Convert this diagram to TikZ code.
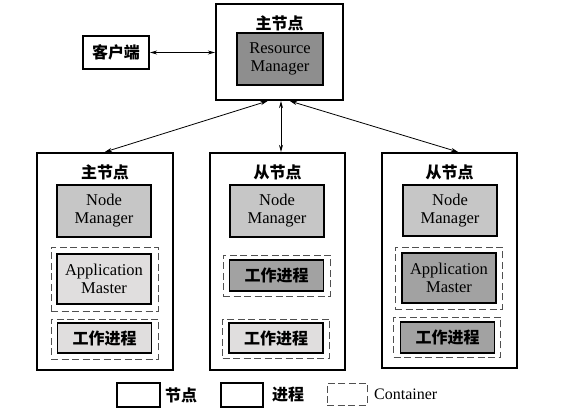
\documentclass[tikz,border=0pt]{standalone}
\usepackage{fontspec}
\setmainfont{Liberation Serif}
\newfontfamily\cjk{Noto Sans CJK SC}
\usetikzlibrary{arrows.meta,calc}
\definecolor{rmgray}{HTML}{8E8E8E}
\definecolor{nmgray}{HTML}{C6C6C6}
\definecolor{lightp}{HTML}{E0DEDE}
\definecolor{darkp}{HTML}{A2A2A2}
\definecolor{dashgray}{HTML}{505050}
\begin{document}
\begin{tikzpicture}[x=1pt,y=-1pt,
  hostbox/.style={draw,line width=2.2pt,fill=white,inner sep=0pt,minimum width=#1},
  procbox/.style={draw,line width=1.8pt,inner sep=0pt,minimum width=94pt,align=center,
    font=\fontsize{16.5}{18}\selectfont},
  contbox/.style={draw=dashgray,line width=0.9pt,dash pattern=on 7pt off 3.5pt,inner sep=0pt,minimum width=107pt},
  ttl/.style={font=\fontsize{16}{18}\cjk\bfseries,inner sep=0pt},
  cjktext/.style={font=\fontsize{16}{18}\cjk\bfseries},
  link/.style={line width=0.8pt,{Stealth[length=7pt,width=4pt]}-{Stealth[length=7pt,width=4pt]}}
]
\useasboundingbox (0,0) rectangle (579,411);

% top master
\node[hostbox=127pt,minimum height=96pt] (master) at (279.5,52) {};
\node[ttl] (mt) at (279.5,23) {主节点};
\node[procbox,fill=rmgray,minimum width=86pt,minimum height=52pt] (rm) at (280,59) {Resource\\Manager};

% client
\node[hostbox=66pt,minimum height=33pt,font=\fontsize{16}{18}\cjk\bfseries] (client) at (116,52.5) {客户端};

% left host
\node[hostbox=136pt,minimum height=217pt] (left) at (105,261.5) {};
\node[ttl] (lt) at (105,172) {主节点};
\node[procbox,fill=nmgray,minimum height=52pt] (lnm) at (104,211) {Node\\Manager};
\node[contbox,minimum height=64pt] (lc1) at (104.5,279) {};
\node[procbox,fill=lightp,minimum height=50pt] (lam) at (104,279) {Application\\Master};
\node[contbox,minimum height=40pt] (lc2) at (104.5,339) {};
\node[procbox,fill=lightp,minimum height=30pt,font=\fontsize{16}{18}\cjk\bfseries] (lw) at (104.5,338) {工作进程};

% middle host
\node[hostbox=135pt,minimum height=217pt] (mid) at (277.5,261.5) {};
\node[ttl] (mdt) at (277.5,172) {从节点};
\node[procbox,fill=nmgray,minimum height=52pt] (mnm) at (277,211) {Node\\Manager};
\node[contbox,minimum height=41pt] (mc1) at (276.5,275.5) {};
\node[procbox,fill=darkp,minimum height=31pt,font=\fontsize{16}{18}\cjk\bfseries] (mw1) at (276.5,275.5) {工作进程};
\node[contbox,minimum height=39pt] (mc2) at (276,338.5) {};
\node[procbox,fill=lightp,minimum height=30pt,font=\fontsize{16}{18}\cjk\bfseries] (mw2) at (276,338) {工作进程};

% right host
\node[hostbox=135pt,minimum height=215pt] (right) at (449.5,260.5) {};
\node[ttl] (rt) at (449.5,172) {从节点};
\node[procbox,fill=nmgray,minimum height=51pt] (rnm) at (450,210.5) {Node\\Manager};
\node[contbox,minimum height=62pt] (rc1) at (448.5,278) {};
\node[procbox,fill=darkp,minimum height=50pt] (ram) at (449,278) {Application\\Master};
\node[contbox,minimum height=40pt] (rc2) at (447,337) {};
\node[procbox,fill=darkp,minimum height=31pt,font=\fontsize{16}{18}\cjk\bfseries] (rw) at (447.5,337.5) {工作进程};

% connectors
\draw[link] (client.east) -- (master.west |- client.east);
\draw[link] (left.north) -- ($(master.south)+(-12,0)$);
\draw[link] ($(master.south)+(1.5,0)$) -- ($(mid.north)+(3.5,0)$);
\draw[link] ($(master.south)+(10.5,0)$) -- ($(right.north)+(8.5,0)$);

% legend
\node[draw,line width=2pt,inner sep=0pt,minimum width=43pt,minimum height=24pt] (lg1) at (138.5,395) {};
\node[cjktext,anchor=west,inner sep=0pt] (lg1t) at (165,395) {节点};
\node[draw,line width=1.8pt,inner sep=0pt,minimum width=42pt,minimum height=24pt] (lg2) at (242,395) {};
\node[cjktext,anchor=west,inner sep=0pt] (lg2t) at (272,395) {进程};
\node[contbox,minimum width=40pt,minimum height=22pt] (lg3) at (347,394) {};
\node[anchor=west,inner sep=0pt,font=\fontsize{16}{18}\selectfont] (lg3t) at (374,394) {Container};
\end{tikzpicture}
\end{document}
